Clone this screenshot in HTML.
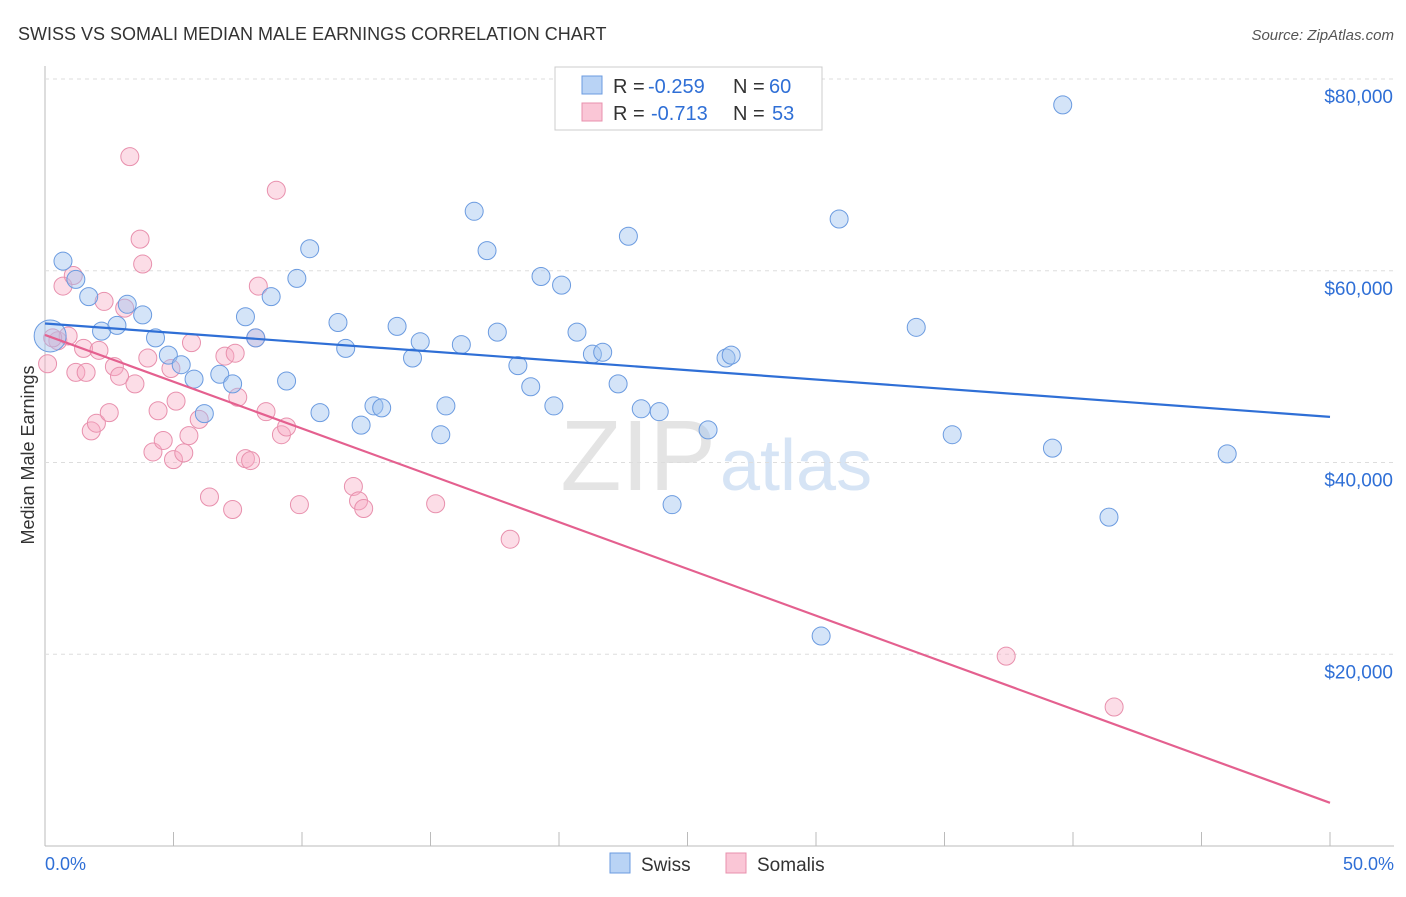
<!DOCTYPE html>
<html><head><meta charset="utf-8"><style>
body{margin:0;background:#fff;font-family:"Liberation Sans",sans-serif}
svg text{font-family:"Liberation Sans",sans-serif}
</style></head><body>
<svg id="c" width="1406" height="892">
<text x="18" y="40" font-size="18" fill="#333">SWISS VS SOMALI MEDIAN MALE EARNINGS CORRELATION CHART</text>
<text x="1394" y="40" font-size="15" fill="#555" font-style="italic" text-anchor="end">Source: ZipAtlas.com</text>
<text x="716" y="490" font-size="100" fill="#e4e4e4" font-family="Liberation Serif" text-anchor="end">ZIP</text>
<text x="720" y="490" font-size="72" fill="#d6e4f5">atlas</text>
<g id="grid"></g><g id="pts"></g><g id="lines"></g>
<text transform="translate(34,455) rotate(-90)" font-size="18" fill="#333" text-anchor="middle">Median Male Earnings</text>
<g>
<rect x="555" y="67" width="267" height="63" fill="#fff" stroke="#ccc"/>
<rect x="582" y="76" width="20" height="18" fill="#b9d3f5" stroke="#6b9be0"/>
<rect x="582" y="103" width="20" height="18" fill="#fac6d6" stroke="#e890ad"/>
<text x="613" y="93" font-size="20" fill="#333">R =</text>
<text x="648" y="93" font-size="20" fill="#2f6fd6">-0.259</text>
<text x="733" y="93" font-size="20" fill="#333">N =</text>
<text x="769" y="93" font-size="20" fill="#2f6fd6">60</text>
<text x="613" y="120" font-size="20" fill="#333">R =</text>
<text x="651" y="120" font-size="20" fill="#2f6fd6">-0.713</text>
<text x="733" y="120" font-size="20" fill="#333">N =</text>
<text x="772" y="120" font-size="20" fill="#2f6fd6">53</text>
</g>
<g>
<rect x="610" y="853" width="20" height="20" fill="#b9d3f5" stroke="#6b9be0"/>
<text x="641" y="871" font-size="19" fill="#333">Swiss</text>
<rect x="726" y="853" width="20" height="20" fill="#fac6d6" stroke="#e890ad"/>
<text x="757" y="871" font-size="19" fill="#333">Somalis</text>
</g>
<text x="45" y="870" font-size="18" fill="#2f6fd6">0.0%</text>
<text x="1394" y="870" font-size="18" fill="#2f6fd6" text-anchor="end">50.0%</text>
</svg>
<script>
const yTicks=[20000,40000,60000,80000];
const yTickLabels=["$20,000","$40,000","$60,000","$80,000"];
const swissX=[0.7,1.2,1.7,2.2,2.8,3.2,3.8,4.3,4.8,5.3,5.8,6.2,6.8,7.3,7.8,8.2,8.8,9.4,9.8,10.3,10.7,11.4,11.7,12.3,12.8,13.1,13.7,14.3,14.6,15.4,15.6,16.2,16.7,17.2,17.6,18.4,18.9,19.3,19.8,20.1,20.7,21.3,21.7,22.3,22.7,23.2,23.9,24.4,25.8,26.5,26.7,30.2,30.9,33.9,35.3,39.2,39.6,41.4,46.0,0.2];
const swissY=[61000,59100,57300,53700,54300,56500,55400,53000,51200,50200,48700,45100,49200,48200,55200,53000,57300,48500,59200,62300,45200,54600,51900,43900,45900,45700,54200,50900,52600,42900,45900,52300,66200,62100,53600,50100,47900,59400,45900,58500,53600,51300,51500,48200,63600,45600,45300,35600,43400,50900,51200,21900,65400,54100,42900,41500,77300,34300,40900,53200];
const somX=[0.1,0.5,0.7,0.9,1.1,1.2,1.5,1.6,1.8,2.0,2.1,2.3,2.5,2.7,2.9,3.1,3.3,3.5,3.7,3.8,4.0,4.2,4.4,4.6,4.9,5.0,5.1,5.4,5.6,5.7,6.0,6.4,7.0,7.3,7.4,7.5,7.8,8.0,8.2,8.3,8.6,9.0,9.2,9.4,9.9,12.0,12.2,12.4,15.2,18.1,37.4,41.6,0.3];
const somY=[50300,52700,58400,53200,59500,49400,51900,49400,43300,44100,51700,56800,45200,50000,49000,56100,71900,48200,63300,60700,50900,41100,45400,42300,49800,40300,46400,41000,42800,52500,44500,36400,51100,35100,51400,46800,40400,40200,53000,58400,45300,68400,42900,43700,35600,37500,36000,35200,35700,32000,19800,14500,53000];
const X0=45,X1=1330,Ytop=79,Ybot=846;
const xs=v=>X0+(v/50)*(X1-X0);
const ys=v=>Ybot-(v/80000)*(Ybot-Ytop);
const NS="http://www.w3.org/2000/svg";
function mk(t,a,p){const e=document.createElementNS(NS,t);for(const k in a)e.setAttribute(k,a[k]);p.appendChild(e);return e;}
const grid=document.getElementById('grid');
mk('line',{x1:X0,y1:66,x2:X0,y2:846,stroke:'#bbb'},grid);
const xa=mk('line',{x1:X0,y1:846,x2:1394,y2:846,stroke:'#bbb'},grid);

for(let i=0;i<=10;i++){const t=mk('line',{x1:xs(i*5),y1:832,x2:xs(i*5),y2:846,stroke:'#bbb'},grid);
}
yTicks.forEach((v,i)=>{const g=mk('line',{x1:X0,y1:ys(v),x2:1394,y2:ys(v),stroke:'#ddd','stroke-dasharray':'4,4'},grid);


const t=mk('text',{x:1393,y:ys(v)+24,'font-size':19,fill:'#2f6fd6','text-anchor':'end'},grid);t.textContent=yTickLabels[i];

});
const pts=document.getElementById('pts');
somX.forEach((v,i)=>{const c=mk('circle',{cx:xs(v),cy:ys(somY[i]),r:9,fill:'rgba(247,170,195,0.4)',stroke:'#e890ad','stroke-width':1},pts);

});
swissX.forEach((v,i)=>{const c=mk('circle',{cx:xs(v),cy:ys(swissY[i]),r:i==swissX.length-1?16:9,fill:'rgba(160,195,240,0.45)',stroke:'#6b9be0','stroke-width':1},pts);

});
function fit(X,Y){const n=X.length;let mx=0,my=0;X.forEach((v,i)=>{mx+=v;my+=Y[i]});mx/=n;my/=n;let sxy=0,sxx=0;X.forEach((v,i)=>{sxy+=(v-mx)*(Y[i]-my);sxx+=(v-mx)**2});const b=sxy/sxx;return [my-b*mx,b];}
const lines=document.getElementById('lines');
[[swissX,swissY,'#2f6fd6','swiss-trend-line'],[somX,somY,'#e4608f','somali-trend-line']].forEach(([X,Y,col,nm])=>{const [a,b]=fit(X,Y);
const l=mk('line',{x1:xs(0),y1:ys(a),x2:xs(50),y2:ys(a+b*50),stroke:col,'stroke-width':2.2},lines);

});
</script>
</body></html>
